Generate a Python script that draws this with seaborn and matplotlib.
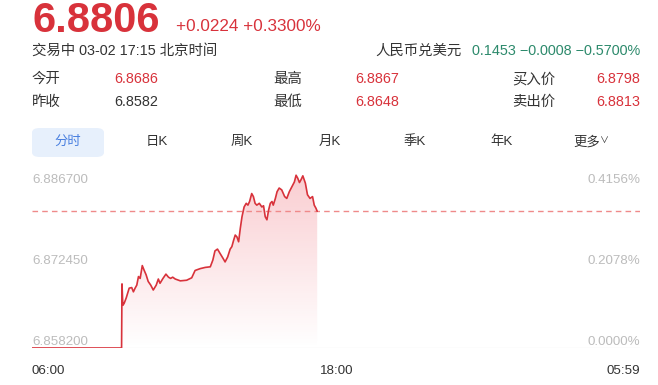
import numpy as np
import pandas as pd
import seaborn as sns
import matplotlib.pyplot as plt
from matplotlib.colors import LinearSegmentedColormap
from matplotlib.patches import FancyBboxPatch

# quote header
price_text = "6.8806"
change_text = "+0.0224 +0.3300%"
status_text = "交易中 03-02 17:15 北京时间"
cross_label = "人民币兑美元"
cross_text = "0.1453 −0.0008 −0.5700%"
stat_rows = [
    ["今开", "6.8686", "最高", "6.8867", "买入价", "6.8798"],
    ["昨收", "6.8582", "最低", "6.8648", "卖出价", "6.8813"],
]
tabs = ["分时", "日K", "周K", "月K", "季K", "年K", "更多"]

# intraday series: minutes after 06:00, price
prev_close = 6.8582
last_price = 6.8806
minutes = [0, 212, 213, 215, 218, 223, 230, 236, 240, 244, 248, 252, 256, 261, 265,
           270, 275, 281, 287, 294, 299, 303, 310, 317, 323, 328, 333, 339, 351, 366,
           378, 386, 398, 410, 422, 428, 433, 439, 445, 452, 457, 463, 469, 473, 477,
           481, 485, 489, 493, 497, 502, 507, 511, 515, 520, 524, 528, 532, 538, 544,
           548, 552, 556, 560, 564, 568, 571, 576, 580, 585, 591, 598, 603, 609, 615,
           621, 625, 629, 633, 637, 641, 647, 652, 658, 664, 668, 672, 675]
prices = [6.8582, 6.8582, 6.8687, 6.8652, 6.8655, 6.8664, 6.8680, 6.8681, 6.8674, 6.8680,
          6.8685, 6.8699, 6.8696, 6.8717, 6.8710, 6.8702, 6.8691, 6.8685, 6.8677, 6.8685,
          6.8695, 6.8688, 6.8696, 6.8703, 6.8698, 6.8696, 6.8698, 6.8695, 6.8692, 6.8693,
          6.8697, 6.8709, 6.8712, 6.8714, 6.8715, 6.8726, 6.8741, 6.8744, 6.8737, 6.8729,
          6.8723, 6.8731, 6.8744, 6.8748, 6.8758, 6.8767, 6.8764, 6.8756, 6.8778, 6.8797,
          6.8813, 6.8819, 6.8816, 6.8822, 6.8835, 6.8830, 6.8819, 6.8816, 6.8819, 6.8813,
          6.8815, 6.8797, 6.8792, 6.8808, 6.8819, 6.8822, 6.8816, 6.8827, 6.8838, 6.8844,
          6.8841, 6.8830, 6.8827, 6.8838, 6.8846, 6.8854, 6.8865, 6.8860, 6.8853, 6.8858,
          6.8864, 6.8852, 6.8833, 6.8827, 6.8830, 6.8816, 6.8811, 6.8806]

y_ticks = [6.8582, 6.87245, 6.8867]
x_ticks = [0, 720, 1439]
x_labels = ["06:00", "18:00", "05:59"]

RED = "#d8323b"
GREEN = "#2d8a6c"
DARK = "#333333"
GRAY = "#bcbcbc"

sns.set_theme(style="white")
plt.rcParams["font.family"] = ["Liberation Sans", "Noto Sans CJK SC", "DejaVu Sans"]

W, H = 658, 385
fig = plt.figure(figsize=(W / 100, H / 100), dpi=100)


def px(x, y):
    return x / W, 1 - y / H


# header
fig.text(*px(32, 32), price_text, color=RED, fontsize=30, fontweight="bold", va="baseline")
fig.text(*px(176, 31), change_text, color=RED, fontsize=12.3, va="baseline")
fig.text(*px(32, 51), status_text, color=DARK, fontsize=10.4, va="center")
fig.text(*px(640, 51), cross_text, color=GREEN, fontsize=10.4, va="center", ha="right")
fig.text(*px(375, 51), cross_label, color=DARK, fontsize=10.4, va="center", ha="left")

for row, yy in zip(stat_rows, [79, 102]):
    fig.text(*px(32, yy), row[0], color=DARK, fontsize=10.4, va="center")
    fig.text(*px(114, yy), row[1], color=RED if row[0] == "今开" else DARK, fontsize=10.4, va="center")
    fig.text(*px(273, yy), row[2], color=DARK, fontsize=10.4, va="center")
    fig.text(*px(355, yy), row[3], color=RED, fontsize=10.4, va="center")
    fig.text(*px(512, yy), row[4], color=DARK, fontsize=10.4, va="center")
    fig.text(*px(640, yy), row[5], color=RED, fontsize=10.4, va="center", ha="right")

# period tabs
tab_x = [68, 157, 242, 330, 415, 502, 587]
bx, by = px(32, 157)
fig.patches.append(FancyBboxPatch((bx, by), 72 / W, 29 / H, transform=fig.transFigure,
                                  boxstyle="round,pad=0,rounding_size=0.012",
                                  facecolor="#e7f0fc", edgecolor="none"))
for i, (t, xx) in enumerate(zip(tabs, tab_x)):
    fig.text(*px(xx, 142), t, color="#4a80e0" if i == 0 else DARK, fontsize=9.6,
             ha="center", va="center")
fig.text(*px(600, 141), "∨", color=DARK, fontsize=6.5, ha="left", va="center")

# intraday chart
ax = fig.add_axes([32 / W, 1 - 348 / H, 608 / W, 174 / H])
df = pd.DataFrame({"minute": minutes, "price": prices})

poly = ax.fill_between(df["minute"], df["price"], y_ticks[0], color="none", lw=0)
cmap = LinearSegmentedColormap.from_list("fade", [(0.93, 0.35, 0.40, 0.0), (0.93, 0.35, 0.40, 0.30)])
grad = np.linspace(0, 1, 256).reshape(-1, 1)
img = ax.imshow(grad, extent=[0, minutes[-1], y_ticks[0], y_ticks[-1]], origin="lower",
                cmap=cmap, aspect="auto", zorder=1)
img.set_clip_path(poly.get_paths()[0], transform=ax.transData)

sns.lineplot(data=df, x="minute", y="price", ax=ax, color=RED, lw=1.2, zorder=3)
ax.axhline(last_price, color="#ef8a8a", lw=1, ls=(0, (4, 3)), zorder=2)
ax.axhline(y_ticks[0], color="#c9c9c9", lw=0.8, zorder=2)

ax.set_xlim(x_ticks[0], x_ticks[-1])
ax.set_ylim(y_ticks[0], y_ticks[-1])
ax.set_xlabel("")
ax.set_ylabel("")
ax.set_yticks([])
ax.set_xticks(x_ticks)
ax.set_xticklabels(x_labels, color=DARK, fontsize=9.6)
for lab, ha in zip(ax.get_xticklabels(), ["left", "center", "right"]):
    lab.set_ha(ha)
ax.tick_params(axis="x", length=0, pad=12)
for s in ax.spines.values():
    s.set_visible(False)

for v, va in zip(y_ticks, ["bottom", "center", "top"]):
    pct = (v / prev_close - 1) * 100
    ax.text(0.0, v, f"{v:.6f}", transform=ax.get_yaxis_transform(), color=GRAY,
            fontsize=9.6, ha="left", va=va)
    ax.text(1.0, v, f"{pct:.4f}%", transform=ax.get_yaxis_transform(), color=GRAY,
            fontsize=9.6, ha="right", va=va)

fig.savefig("out.png", dpi=100)
